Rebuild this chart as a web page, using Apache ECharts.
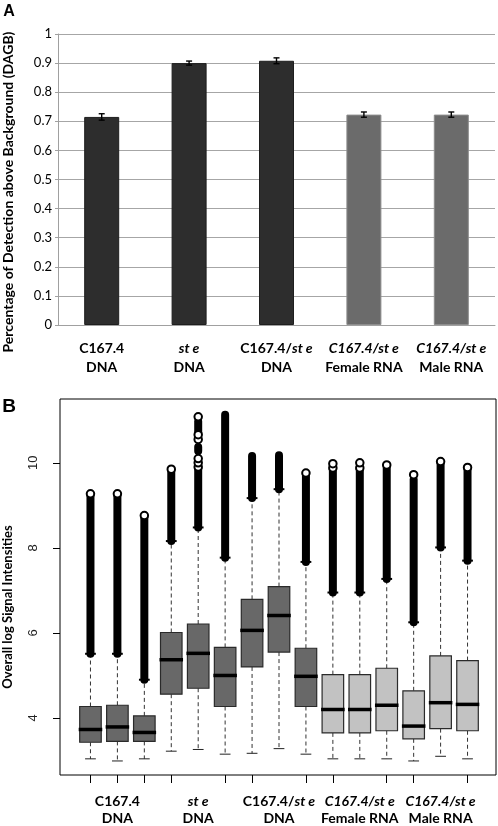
<!DOCTYPE html>
<html><head><meta charset="utf-8">
<script src="https://cdn.jsdelivr.net/npm/echarts@6/dist/echarts.min.js"></script>
<style>html,body{margin:0;padding:0;background:#fff}#c{width:498px;height:826px}</style>
</head><body><div id="c"></div>
<script>
// ---------- Panel A data ----------
const barLabelLines = [
  ['C167.4', 'DNA'],
  ['*st e*', 'DNA'],
  ['C167.4/*st e*', 'DNA'],
  ['*C167.4/st e*', 'Female RNA'],
  ['*C167.4/st e*', 'Male RNA']
];
const barValues = [0.715, 0.900, 0.908, 0.723, 0.723];
const barErrors = [0.011, 0.007, 0.010, 0.009, 0.009];
const barSampleType = ['DNA', 'DNA', 'DNA', 'RNA', 'RNA'];
const barYTicks = [0, 0.1, 0.2, 0.3, 0.4, 0.5, 0.6, 0.7, 0.8, 0.9, 1];

// ---------- Panel B data ----------
const boxGroupLines = [
  ['C167.4', 'DNA'],
  ['*st e*', 'DNA'],
  ['C167.4/*st e*', 'DNA'],
  ['*C167.4/st e*', 'Female RNA'],
  ['*C167.4/st e*', 'Male RNA']
];
const boxSampleType = ['DNA','DNA','DNA','DNA','DNA','DNA','DNA','DNA','DNA','RNA','RNA','RNA','RNA','RNA','RNA'];
const whiskerLow  = [3.04, 2.99, 3.04, 3.22, 3.26, 3.15, 3.17, 3.28, 3.15, 3.04, 3.04, 3.04, 2.99, 3.10, 3.04];
const quartile1   = [3.43, 3.45, 3.45, 4.56, 4.70, 4.27, 5.20, 5.55, 4.27, 3.65, 3.65, 3.70, 3.51, 3.75, 3.70];
const medians     = [3.73, 3.79, 3.66, 5.37, 5.52, 5.00, 6.06, 6.41, 4.98, 4.20, 4.20, 4.30, 3.81, 4.36, 4.32];
const quartile3   = [4.27, 4.30, 4.05, 6.01, 6.21, 5.66, 6.79, 7.09, 5.64, 5.02, 5.02, 5.17, 4.64, 5.46, 5.35];
const whiskerHigh = [5.51, 5.51, 4.90, 8.16, 8.48, 7.77, 9.17, 9.38, 7.67, 6.95, 6.95, 7.27, 6.25, 8.01, 7.70];
// dense outlier runs: [box index, from, to]
const outlierRuns = [
  [0, 5.51, 9.25], [1, 5.51, 9.25], [2, 4.90, 8.72], [3, 8.16, 9.82],
  [4, 8.48, 9.87], [4, 10.28, 10.37], [4, 10.70, 10.97],
  [5, 7.77, 11.13], [6, 9.17, 10.16], [7, 9.38, 10.18], [8, 7.67, 9.74],
  [9, 6.95, 9.85], [10, 6.95, 9.85], [11, 7.27, 9.90], [12, 6.25, 9.61],
  [13, 8.01, 10.00], [14, 7.70, 9.86]
];
// distinct outliers: [box index, value]
const outlierPoints = [
  [0, 9.27], [1, 9.27], [2, 8.76], [3, 9.85],
  [4, 9.90], [4, 10.00], [4, 10.10], [4, 10.55], [4, 10.66], [4, 11.08],
  [8, 9.76], [9, 9.88], [9, 9.98], [10, 9.88], [10, 10.00], [11, 9.95],
  [12, 9.72], [13, 10.03], [14, 9.89]
];
const boxYTicks = [4, 6, 8, 10];
const boxYRange = [2.66, 11.5];

// ---------- helpers ----------
function richLabel(lines) {
  return lines.map(l => l.split('*').map((s, k) => s === '' ? '' : (k % 2 ? '{i|' + s + '}' : '{b|' + s + '}')).join('')).join('\n');
}
const FONT = 'Lato';
const richA = {
  b: { fontFamily: FONT, fontWeight: 'bold', fontSize: 14, color: '#000', lineHeight: 19 },
  i: { fontFamily: FONT, fontWeight: 'bold', fontStyle: 'italic', fontSize: 14, color: '#000', lineHeight: 19 }
};
const richB = {
  b: { fontFamily: FONT, fontWeight: 'bold', fontSize: 14, color: '#000', lineHeight: 17 },
  i: { fontFamily: FONT, fontWeight: 'bold', fontStyle: 'italic', fontSize: 14, color: '#000', lineHeight: 17 }
};

const boxIdx = whiskerLow.map((_, i) => String(i + 1));
const boxData = whiskerLow.map((v, i) => [i, v, quartile1[i], medians[i], quartile3[i], whiskerHigh[i], boxSampleType[i] === 'DNA' ? 0 : 1]);

const chart = echarts.init(document.getElementById('c'), null, { renderer: 'canvas' });
chart.setOption({
  animation: false,
  backgroundColor: '#fff',
  grid: [
    { left: 58, top: 34, width: 437, height: 291 },
    { left: 60, top: 399, width: 436, height: 376, show: true, borderColor: '#000', borderWidth: 1, backgroundColor: 'transparent' },
    { left: 77, top: 399, width: 404, height: 376 }
  ],
  xAxis: [
    { type: 'category', gridIndex: 0, data: barLabelLines.map((_, i) => String(i)),
      axisLine: { show: true, lineStyle: { color: '#a0a0a0', width: 1 } },
      axisTick: { show: false },
      axisLabel: { margin: 14, formatter: (v, i) => richLabel(barLabelLines[i]), rich: richA, interval: 0 } },
    { type: 'value', gridIndex: 1, show: false, min: 0, max: 1 },
    { type: 'category', gridIndex: 2, data: boxIdx,
      axisLine: { show: false },
      axisTick: { show: true, alignWithLabel: true, length: 8, lineStyle: { color: '#000', width: 1 },
        interval: (i) => [4, 7, 10, 13].indexOf(i) < 0 },
      axisLabel: { margin: 18, interval: (i) => i % 3 === 1,
        formatter: (v, i) => richLabel(boxGroupLines[Math.floor(i / 3)]), rich: richB } }
  ],
  yAxis: [
    { type: 'value', gridIndex: 0, min: 0, max: 1, interval: 0.1,
      axisLine: { show: true, lineStyle: { color: '#a0a0a0' } },
      axisTick: { show: true, length: 3, lineStyle: { color: '#a0a0a0' } },
      splitLine: { show: true, lineStyle: { color: '#a6a6a6', width: 1 } },
      axisLabel: { margin: 6, fontFamily: FONT, fontSize: 13, color: '#000',
        formatter: v => barYTicks.indexOf(Math.round(v * 10) / 10) >= 0 ? String(Math.round(v * 10) / 10) : '' } },
    { type: 'value', gridIndex: 1, show: false, min: 0, max: 1 },
    { type: 'value', gridIndex: 2, min: boxYRange[0], max: boxYRange[1], offset: 17,
      axisLine: { show: false },
      splitLine: { show: false },
      axisTick: { show: true, length: 7, customValues: boxYTicks, lineStyle: { color: '#000' } },
      axisLabel: { customValues: boxYTicks, rotate: 90, margin: 20, fontFamily: 'Liberation Sans', fontSize: 13, color: '#222' } }
  ],
  graphic: [
    { type: 'text', x: 9, y: 12, style: { text: 'A', font: 'bold 16px "Liberation Sans"', fill: '#000', align: 'center', verticalAlign: 'middle' } },
    { type: 'text', x: 9, y: 407, style: { text: 'B', font: 'bold 19px "Liberation Sans"', fill: '#000', align: 'center', verticalAlign: 'middle' } },
    { type: 'text', x: 8.5, y: 192, rotation: Math.PI / 2, style: { text: 'Percentage of Detection above Background (DAGB)', font: 'bold 14px Lato', fill: '#000', align: 'center', verticalAlign: 'middle' } },
    { type: 'text', x: 8, y: 607, rotation: Math.PI / 2, style: { text: 'Overall log Signal Intensities', font: 'bold 13px Lato', fill: '#000', align: 'center', verticalAlign: 'middle' } }
  ],
  series: [
    { type: 'bar', xAxisIndex: 0, yAxisIndex: 0, barWidth: 35,
      data: barValues.map((v, i) => ({ value: v, itemStyle: barSampleType[i] === 'DNA'
        ? { color: '#2d2d2d', borderColor: '#1e1e1e', borderWidth: 1 }
        : { color: '#6b6b6b', borderColor: '#8c8c8c', borderWidth: 1 } })) },
    { type: 'custom', xAxisIndex: 0, yAxisIndex: 0, z: 5,
      data: barValues.map((v, i) => [i, v - barErrors[i], v + barErrors[i]]),
      renderItem: (params, api) => {
        const a = api.coord([api.value(0), api.value(1)]);
        const b = api.coord([api.value(0), api.value(2)]);
        const w = 3, st = { stroke: '#000', lineWidth: 1.4 };
        return { type: 'group', children: [
          { type: 'line', shape: { x1: a[0], y1: a[1], x2: b[0], y2: b[1] }, style: st },
          { type: 'line', shape: { x1: a[0] - w, y1: a[1], x2: a[0] + w, y2: a[1] }, style: st },
          { type: 'line', shape: { x1: b[0] - w, y1: b[1], x2: b[0] + w, y2: b[1] }, style: st }
        ] };
      } },
    { type: 'custom', xAxisIndex: 2, yAxisIndex: 2, z: 3, data: boxData,
      renderItem: (params, api) => {
        const i = api.value(0);
        const pLo = api.coord([i, api.value(1)]);
        const pQ1 = api.coord([i, api.value(2)]);
        const pMd = api.coord([i, api.value(3)]);
        const pQ3 = api.coord([i, api.value(4)]);
        const pHi = api.coord([i, api.value(5)]);
        const bw = api.size([1, 0])[0] * 0.8;
        const hw = bw / 2, cw = bw / 4;
        const x = pQ1[0];
        const dash = { stroke: '#333', lineWidth: 1, lineDash: [4, 3] };
        const solid = { stroke: '#222', lineWidth: 1 };
        const fill = api.value(6) === 0 ? '#686868' : '#c2c2c2';
        return { type: 'group', children: [
          { type: 'line', shape: { x1: x, y1: pQ1[1], x2: x, y2: pLo[1] }, style: dash },
          { type: 'line', shape: { x1: x, y1: pQ3[1], x2: x, y2: pHi[1] }, style: dash },
          { type: 'line', shape: { x1: x - cw, y1: pLo[1], x2: x + cw, y2: pLo[1] }, style: solid },
          { type: 'line', shape: { x1: x - cw, y1: pHi[1], x2: x + cw, y2: pHi[1] }, style: { stroke: '#000', lineWidth: 2 } },
          { type: 'rect', shape: { x: x - hw, y: pQ3[1], width: bw, height: pQ1[1] - pQ3[1] }, style: { fill: fill, stroke: '#2a2a2a', lineWidth: 1.2 } },
          { type: 'line', shape: { x1: x - hw - 1, y1: pMd[1], x2: x + hw + 1, y2: pMd[1] }, style: { stroke: '#000', lineWidth: 3.5 } }
        ] };
      } },
    { type: 'custom', xAxisIndex: 2, yAxisIndex: 2, z: 4, data: outlierRuns,
      renderItem: (params, api) => {
        const a = api.coord([api.value(0), api.value(1)]);
        const b = api.coord([api.value(0), api.value(2)]);
        const r = 4;
        return { type: 'rect', shape: { x: a[0] - r, y: b[1] - r, width: 2 * r, height: a[1] - b[1] + 2 * r, r: r },
          style: { fill: '#000' } };
      } },
    { type: 'scatter', xAxisIndex: 2, yAxisIndex: 2, z: 5, data: outlierPoints,
      symbol: 'circle', symbolSize: 7.5,
      itemStyle: { color: '#fff', borderColor: '#000', borderWidth: 2, opacity: 1 } }
  ]
});
</script>
</body></html>
